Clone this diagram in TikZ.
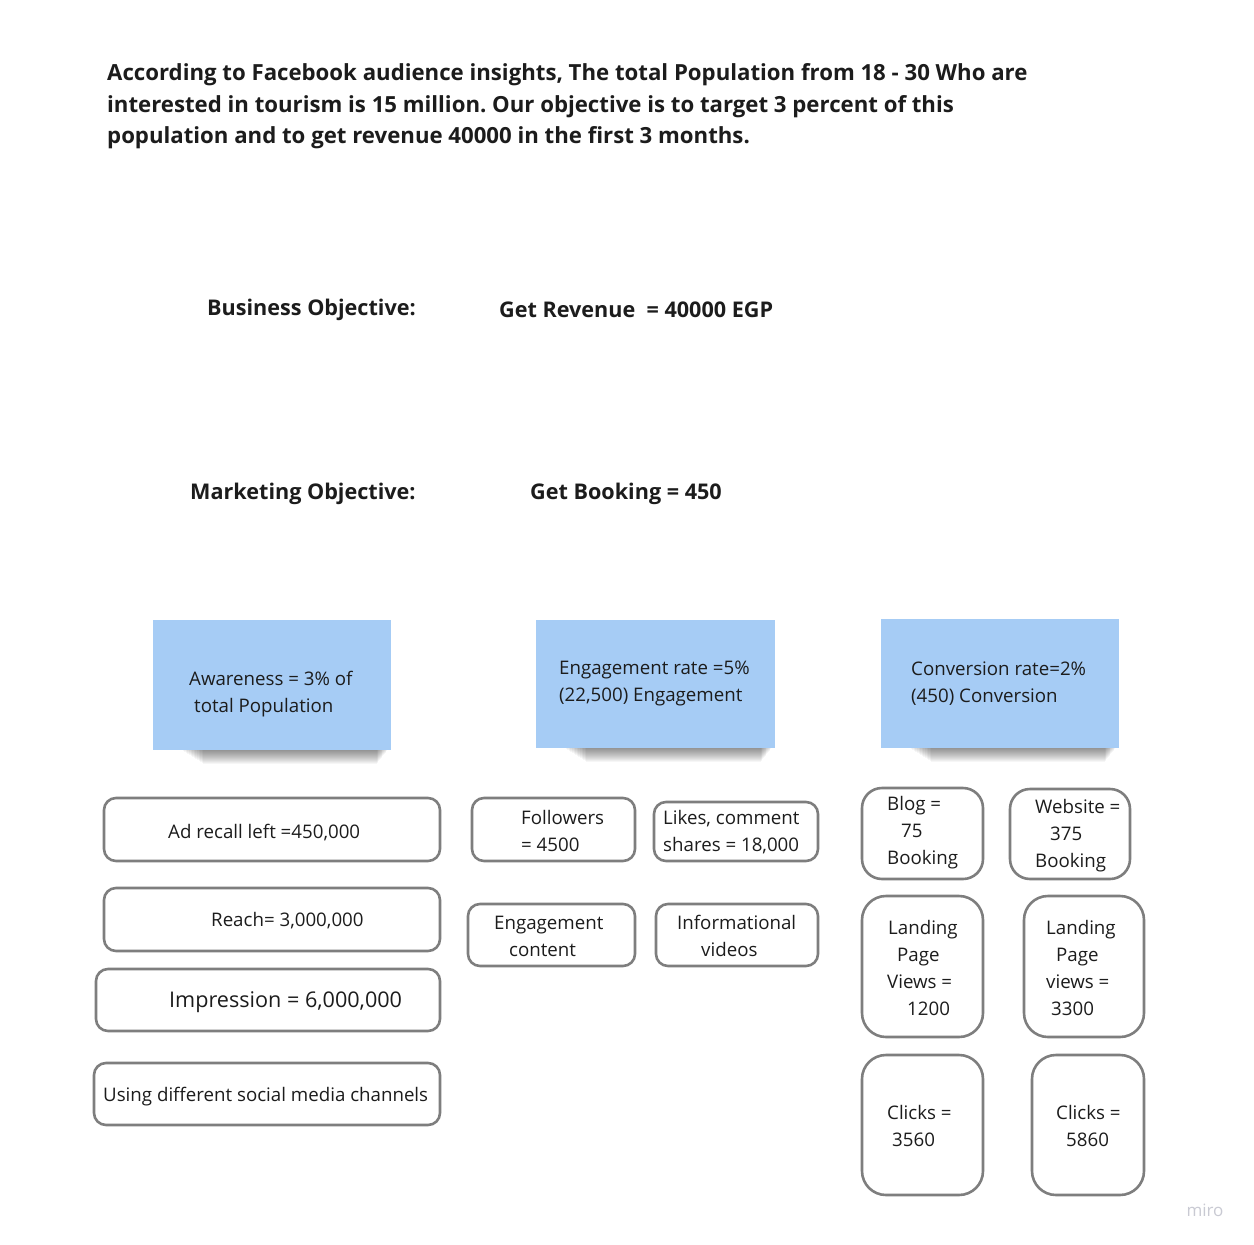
\documentclass[tikz,border=0pt]{standalone}
\usepackage{fontspec}
\setmainfont{Open Sans}
\frenchspacing
\definecolor{txt}{HTML}{1C1C1C}
\definecolor{boxgray}{HTML}{7E7E7E}
\definecolor{stickyblue}{HTML}{A6CCF5}
\definecolor{mirogray}{HTML}{C9CAD3}
\begin{document}
\begin{tikzpicture}[x=1pt,y=-1pt,
  every node/.style={inner sep=0pt, text=txt},
  body/.style={font=\fontsize{18.7}{27}\selectfont, align=left, anchor=west},
  bigbody/.style={font=\fontsize{21.6}{27}\selectfont, align=left, anchor=west},
  head/.style={font=\fontsize{21.6}{31.5}\selectfont\bfseries, align=left, anchor=west},
  titlestyle/.style={font=\fontsize{22.2}{31.5}\selectfont\bfseries, align=left, anchor=west},
  obox/.style={draw=boxgray, line width=2.6pt, rounded corners=12pt, fill=white},
  tbox/.style={draw=boxgray, line width=2.6pt, rounded corners=20pt, fill=white},
  lbox/.style={draw=boxgray, line width=2.6pt, rounded corners=24pt, fill=white},
  sticky/.style={fill=stickyblue, draw=none}]
\useasboundingbox (0,0) rectangle (1254,1245);
\fill[white] (0,0) rectangle (1254,1245);

% headings
\node[titlestyle] (title) at (107,106.5) {According to Facebook audience insights, The total Population from 18 - 30 Who are\\interested in tourism is 15 million. Our objective is to target 3 percent of this\\population and to get revenue 40000 in the first 3 months.};
\node[head] (bo) at (207,310) {Business Objective:};
\node[head] (gr) at (499,310) {Get Revenue \ = 40000 EGP};
\node[head] (mo) at (190,493.5) {Marketing Objective:};
\node[head] (gb) at (530,493.5) {Get Booking = 450};

% sticky notes
\coordinate (s1c) at (272,685);
\coordinate (s2c) at (655.5,684);
\coordinate (s3c) at (1000,683.5);
\foreach \c/\w/\h in {s1c/238/130, s2c/239/128, s3c/238/129}{
  \foreach \i in {1,...,14}{
    \fill[black,opacity=0.035] ([xshift={-\w/2+28+\i*1.6}, yshift={-\h/2+4}]\c) rectangle ([xshift={\w/2-3-\i*0.8}, yshift={-\h/2-\i*1.0}]\c);
  }
}
\node[sticky, minimum width=238pt, minimum height=130pt] (s1) at (s1c) {};
\node[sticky, minimum width=239pt, minimum height=128pt] (s2) at (s2c) {};
\node[sticky, minimum width=238pt, minimum height=129pt] (s3) at (s3c) {};
\node[body] (s1t) at (189,694.5) {Awareness = 3\% of\\\hspace*{5pt}total Population};
\node[body] (s2t) at (559,683.5) {Engagement rate =5\%\\(22,500) Engagement};
\node[body] (s3t) at (911,683.5) {Conversion rate=2\%\\(450) Conversion};

% left column boxes
\node[obox, minimum width=336pt, minimum height=63pt] (ad) at (272,829.5) {};
\node[body] (adt) at (168,833) {Ad recall left =450,000};
\node[obox, minimum width=336pt, minimum height=63pt] (reach) at (272,919.5) {};
\node[body] (reacht) at (211,921) {Reach= 3,000,000};
\node[obox, minimum width=344pt, minimum height=62pt] (imp) at (268,1000) {};
\node[bigbody] (impt) at (169,1002.5) {Impression = 6,000,000};
\node[obox, minimum width=346pt, minimum height=62pt] (using) at (267,1094) {};
\node[body] (usingt) at (103,1096.5) {Using different social media channels};

% middle boxes
\node[obox, minimum width=163pt, minimum height=63pt] (foll) at (553.5,829.5) {};
\node[body] (follt) at (521,831) {Followers\\= 4500};
\node[obox, minimum width=164pt, minimum height=59pt] (likes) at (736,831.5) {};
\node[body] (likest) at (663,832) {Likes, comment\\shares = 18,000};
\node[obox, minimum width=167pt, minimum height=62pt] (engc) at (551.5,935) {};
\node[body] (engct) at (494,936) {Engagement\\\hspace*{15pt}content};
\node[obox, minimum width=162pt, minimum height=62pt] (info) at (737,935) {};
\node[body] (infot) at (677,936) {Informational\\\hspace*{24pt}videos};

% right boxes
\node[tbox, minimum width=121pt, minimum height=91pt] (blog) at (922.5,833.5) {};
\node[body] (blogt) at (887,832.5) {Blog =\\\hspace*{14pt}75\\Booking};
\node[tbox, minimum width=120pt, minimum height=90pt] (web) at (1070,834) {};
\node[body] (webt) at (1035,835.5) {Website =\\\hspace*{15pt}375\\Booking};
\node[lbox, minimum width=121pt, minimum height=141pt] (land1) at (922.5,966.5) {};
\node[body] (land1t) at (887,968) {\hspace*{1pt}Landing\\\hspace*{10pt}Page\\Views =\\\hspace*{20pt}1200};
\node[lbox, minimum width=120pt, minimum height=141pt] (land2) at (1084,966.5) {};
\node[body] (land2t) at (1046,968) {Landing\\\hspace*{10pt}Page\\views =\\\hspace*{5pt}3300};
\node[lbox, minimum width=121pt, minimum height=140pt] (clk1) at (922.5,1125) {};
\node[body] (clk1t) at (887,1126) {Clicks =\\\hspace*{5pt}3560};
\node[lbox, minimum width=112pt, minimum height=140pt] (clk2) at (1088,1125) {};
\node[body] (clk2t) at (1056,1126) {Clicks =\\\hspace*{10pt}5860};

% logo
\node[font=\fontsize{17}{20}\selectfont, text=mirogray] (miro) at (1205,1210) {miro};
\end{tikzpicture}
\end{document}
